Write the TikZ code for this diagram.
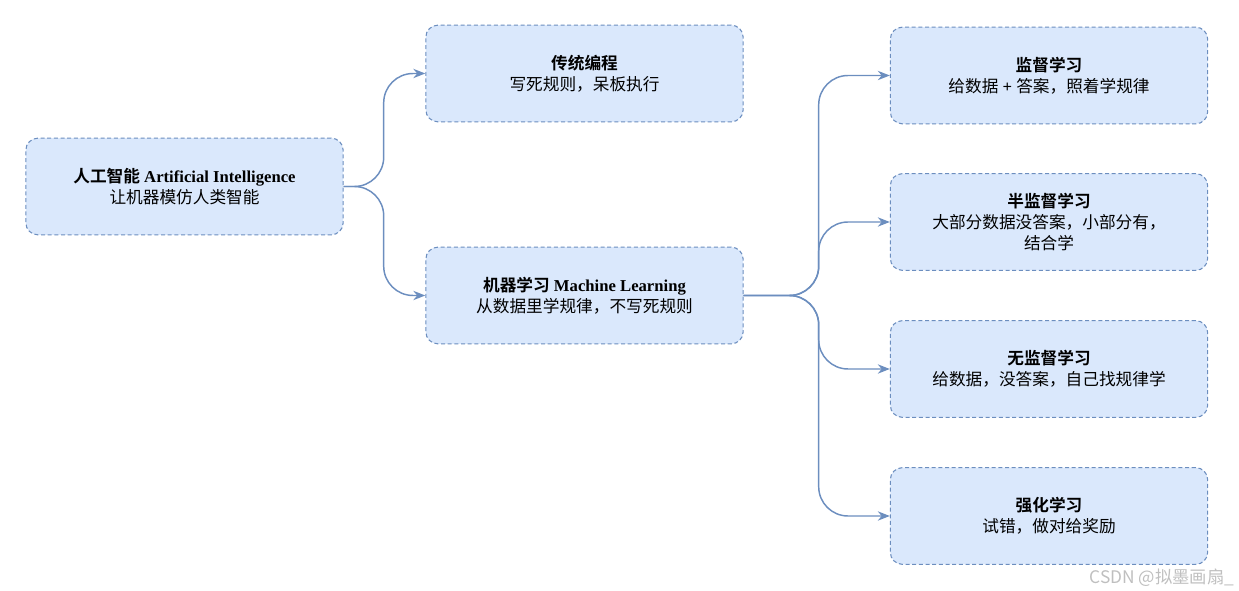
\documentclass[tikz,border=0pt]{standalone}
\usepackage{fontspec}
\setmainfont{Liberation Serif}
\newfontfamily\cjk{Noto Sans CJK SC}
\newfontfamily\cjkb{Noto Sans CJK SC Bold}
\usetikzlibrary{arrows.meta}
\definecolor{boxfill}{HTML}{DAE8FC}
\definecolor{boxdraw}{HTML}{6C8EBF}
\begin{document}
\begin{tikzpicture}[x=0.75pt,y=-0.75pt,
  box/.style={draw=boxdraw,fill=boxfill,dashed,dash pattern=on 3pt off 2pt,line width=0.8pt,rounded corners=9pt,minimum width=238pt,minimum height=72.5pt,align=center,font=\fontsize{12.5}{15.5}\selectfont,inner sep=2pt},
  link/.style={draw=boxdraw,line width=1.1pt,rounded corners=22pt,-{Stealth[length=9pt,width=7pt]}}]
\useasboundingbox (0,0) rectangle (1239,591);
\node[box] (ai) at (184.5,186.5) {{\cjkb 人工智能} \textbf{Artificial Intelligence}\\{\cjk 让机器模仿人类智能}};
\node[box] (trad) at (584.5,73.5) {{\cjkb 传统编程}\\{\cjk 写死规则，呆板执行}};
\node[box] (ml) at (584.5,295.5) {{\cjkb 机器学习} \textbf{Machine Learning}\\{\cjk 从数据里学规律，不写死规则}};
\node[box] (sup) at (1049,75.5) {{\cjkb 监督学习}\\{\cjk 给数据} \textbf{+} {\cjk 答案，照着学规律}};
\node[box] (semi) at (1049,222) {{\cjkb 半监督学习}\\{\cjk 大部分数据没答案，小部分有，}\\{\cjk 结合学}};
\node[box] (uns) at (1049,369) {{\cjkb 无监督学习}\\{\cjk 给数据，没答案，自己找规律学}};
\node[box] (rl) at (1049,516) {{\cjkb 强化学习}\\{\cjk 试错，做对给奖励}};
\draw[link] (ai.east) -- ++(40,0) |- (trad.west);
\draw[link] (ai.east) -- ++(40,0) |- (ml.west);
\draw[link] (ml.east) -- ++(75,0) |- (sup.west);
\draw[link] (ml.east) -- ++(75,0) |- (semi.west);
\draw[link] (ml.east) -- ++(75,0) |- (uns.west);
\draw[link] (ml.east) -- ++(75,0) |- (rl.west);
\node[anchor=south east,text=black!25,font=\fontsize{13}{15}\selectfont,inner sep=2pt] (wm) at (1237,589) {\cjk CSDN @拟墨画扇\_};
\end{tikzpicture}
\end{document}
